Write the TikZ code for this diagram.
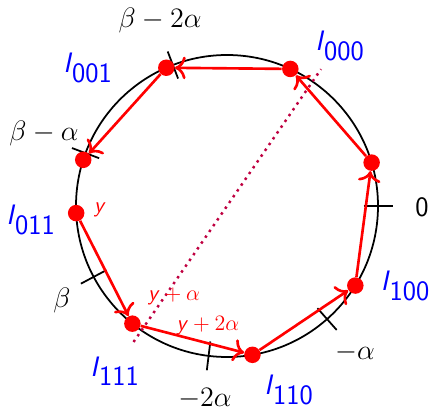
\RequirePackage{fix-cm}
\documentclass[tikz,border=0pt]{standalone}
\usepackage{fontspec}
\usetikzlibrary{arrows.meta}
\newcommand{\st}[1]{$\textsf{\textit{I}}_{\textsf{#1}}$}
\newcommand{\sy}{\textsf{\textit{y}}}
\begin{document}
\begin{tikzpicture}[font=\fontsize{16}{19}\selectfont, line join=round, >={To[scale=1.25]},
    dot/.style={circle, fill=red, inner sep=0pt, minimum size=3.3mm},
    lbl/.style={text=blue},
    ylbl/.style={text=red, font=\fontsize{12.5}{15}\selectfont}]
    \useasboundingbox (-4.54,-4.08) rectangle (4.06,4.12);
    \draw[line width=1pt] (0,0) circle(3.02);
    % ticks on the circle
    \foreach \a in {0,-48.5,-97,111,159.5,208}
        \draw[line width=1pt] (\a:2.73) -- (\a:3.31);
    \draw[purple, line width=1.4pt, dash pattern=on 1.4pt off 2.6pt] (235.5:3.3) -- (55.5:3.32);
    % states
    \foreach \k in {0,...,7}
        \node[dot] (s\k) at ({182.7+48.5*\k}:3.02) {};
    \foreach \k [count=\j] in {0,...,6}
        \draw[->, red, line width=1.5pt] (s\k) -- (s\j);
    \node[lbl] (l011) at (-3.92,-0.28) {\st{011}};
    \node[lbl] (l111) at (-2.24,-3.30) {\st{111}};
    \node[lbl] (l110) at (1.24,-3.68) {\st{110}};
    \node[lbl] (l100) at (3.57,-1.60) {\st{100}};
    \node[lbl] (l000) at (2.26,3.20) {\st{000}};
    \node[lbl] (l001) at (-2.78,2.76) {\st{001}};
    \node (t0) at (3.9,-0.02) {\textsf{0}};
    \node (t1) at (2.56,-2.92) {$-\alpha$};
    \node (t2) at (-0.44,-3.86) {$-2\alpha$};
    \node (t3) at (-3.3,-1.88) {$\beta$};
    \node (t4) at (-3.66,1.46) {$\beta-\alpha$};
    \node (t5) at (-1.34,3.72) {$\beta-2\alpha$};
    \node[ylbl] (y0) at (-2.54,-0.08) {$\sy$};
    \node[ylbl] (y1) at (-1.06,-1.80) {$\sy+\alpha$};
    \node[ylbl] (y2) at (-0.38,-2.40) {$\sy+2\alpha$};
\end{tikzpicture}
\end{document}
